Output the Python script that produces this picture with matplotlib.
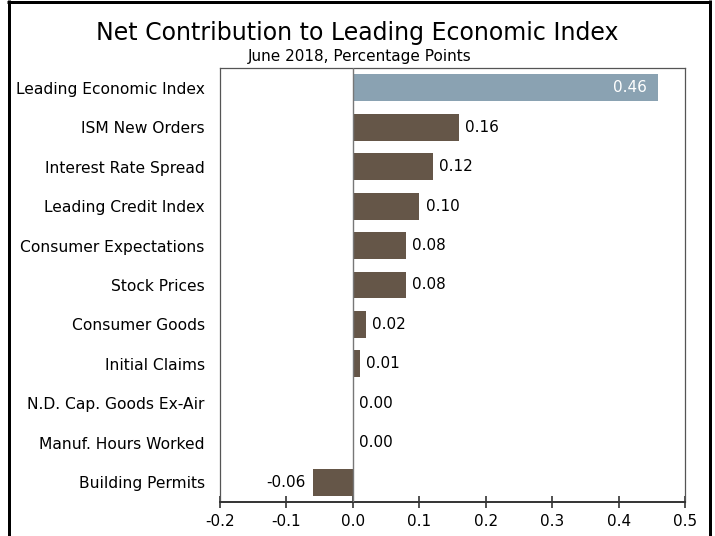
import matplotlib
matplotlib.use("Agg")
import matplotlib.pyplot as plt
from matplotlib.lines import Line2D

categories = ["Leading Economic Index", "ISM New Orders", "Interest Rate Spread",
              "Leading Credit Index", "Consumer Expectations", "Stock Prices",
              "Consumer Goods", "Initial Claims", "N.D. Cap. Goods Ex-Air",
              "Manuf. Hours Worked", "Building Permits"]
values = [0.46, 0.16, 0.12, 0.10, 0.08, 0.08, 0.02, 0.01, 0.00, 0.00, -0.06]
labels = ["0.46", "0.16", "0.12", "0.10", "0.08", "0.08", "0.02", "0.01", "0.00", "0.00", "-0.06"]
xticks = [-0.2, -0.1, 0.0, 0.1, 0.2, 0.3, 0.4, 0.5]
xticklabels = ["-0.2", "-0.1", "0.0", "0.1", "0.2", "0.3", "0.4", "0.5"]

plt.rcParams['font.family'] = ['DejaVu Sans']
W, H = 715, 536
fig = plt.figure(figsize=(W / 100, H / 100), dpi=100)
ax = fig.add_axes([220 / W, 1 - 502 / H, (685 - 220) / W, (502 - 68) / H])

blue = "#8aa2b2"
brown = "#655648"
fs = 11
n = len(categories)
ypos = list(range(n))
colors = [blue] + [brown] * (n - 1)
ax.barh(ypos, values, height=0.68, color=colors, zorder=2)
ax.axvline(0, color="#777777", lw=1.0, zorder=3)

for i, (v, lab) in enumerate(zip(values, labels)):
    if i == 0:
        ax.annotate(lab, (v, i), xytext=(-8, 0), textcoords="offset points",
                    ha="right", va="center", color="white", fontsize=fs)
    elif v < 0:
        ax.annotate(lab, (v, i), xytext=(-5, 0), textcoords="offset points",
                    ha="right", va="center", color="black", fontsize=fs)
    else:
        ax.annotate(lab, (v, i), xytext=(4.5, 0), textcoords="offset points",
                    ha="left", va="center", color="black", fontsize=fs)

ax.set_xlim(-0.2, 0.5)
ax.set_ylim(n - 0.5, -0.5)
ax.set_yticks(ypos)
ax.set_yticklabels(categories, fontsize=11.2)
ax.tick_params(axis="y", length=0, pad=11)
ax.set_xticks(xticks)
ax.set_xticklabels(xticklabels, fontsize=fs)
ax.tick_params(axis="x", direction="inout", length=9, width=1.2, color="#333333", pad=4)
for s in ["left", "right", "top"]:
    ax.spines[s].set_color("#555555")
    ax.spines[s].set_linewidth(0.9)
ax.spines["bottom"].set_color("#333333")
ax.spines["bottom"].set_linewidth(1.4)

fig.text((97 + 617) / 2 / W, 1 - 33 / H, "Net Contribution to Leading Economic Index",
         ha="center", va="center", fontsize=17)
fig.text((243 + 476) / 2 / W, 1 - 56 / H, "June 2018, Percentage Points",
         ha="center", va="center", fontsize=11)

# outer frame
lw = 3 * 72 / 100
fig.add_artist(Line2D([7 / W, 711 / W], [1 - 1.5 / H, 1 - 1.5 / H], color="black", lw=lw,
                      transform=fig.transFigure, solid_capstyle="butt"))
fig.add_artist(Line2D([8.5 / W, 8.5 / W], [0, 1], color="black", lw=lw,
                      transform=fig.transFigure, solid_capstyle="butt"))
fig.add_artist(Line2D([709.5 / W, 709.5 / W], [0, 1], color="black", lw=lw,
                      transform=fig.transFigure, solid_capstyle="butt"))

fig.savefig("out.png", dpi=100)
